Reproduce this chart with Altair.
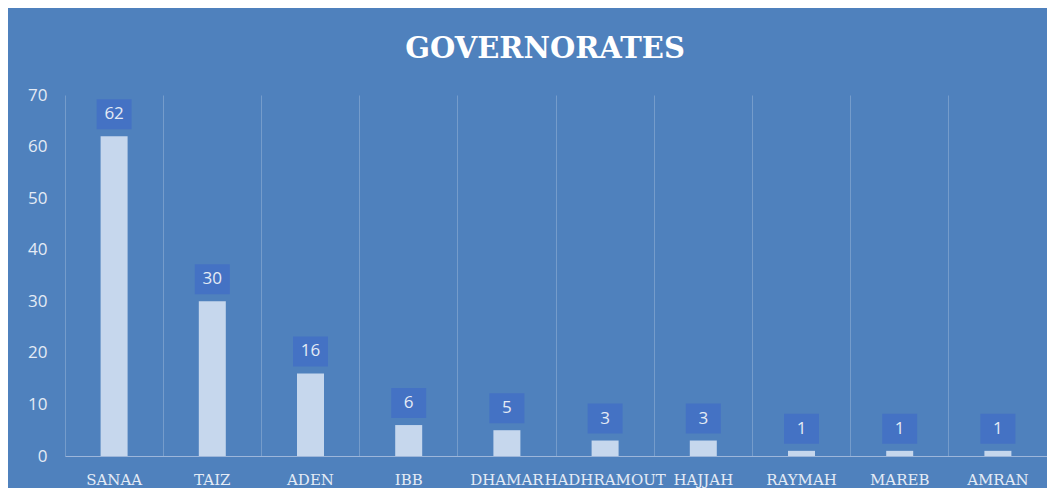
import altair as alt
import pandas as pd

governorates = ["SANAA", "TAIZ", "ADEN", "IBB", "DHAMAR", "HADHRAMOUT",
                "HAJJAH", "RAYMAH", "MAREB", "AMRAN"]
counts = [62, 30, 16, 6, 5, 3, 3, 1, 1, 1]

df = pd.DataFrame({"gov": governorates, "count": counts})

BG = "#4f81bd"
LIGHT = "#e4ebf5"

x = alt.X("gov:N", sort=governorates, title=None,
          scale=alt.Scale(paddingInner=0, paddingOuter=0),
          axis=alt.Axis(labelAngle=0, labelFont="DejaVu Serif", labelFontSize=15,
                        labelColor=LIGHT, labelPadding=16, ticks=False,
                        domainColor="#9db6da", domainWidth=1.2,
                        grid=True, gridColor="#ffffff", gridOpacity=0.22,
                        bandPosition=0, labelOverlap=False))
y = alt.Y("count:Q", title=None,
          scale=alt.Scale(domain=[0, 70]),
          axis=alt.Axis(values=[0, 10, 20, 30, 40, 50, 60, 70], grid=False,
                        domain=False, ticks=False, labelFont="Open Sans",
                        labelFontSize=17, labelColor=LIGHT, labelPadding=18))

bars = alt.Chart(df).mark_bar(width=27, color="#c6d7ed").encode(x=x, y=y)

boxes = alt.Chart(df).mark_bar(width=35, color="#4472c4", yOffset=-7,
                               y2Offset=-37).encode(
    x=alt.X("gov:N", sort=governorates),
    y=alt.Y("count:Q"),
    y2=alt.Y2("count"))

labels = alt.Chart(df).mark_text(dy=-22, fontSize=17, font="Open Sans",
                                 color=LIGHT, baseline="middle").encode(
    x=alt.X("gov:N", sort=governorates),
    y=alt.Y("count:Q"),
    text="count:Q")

chart = alt.layer(bars, boxes, labels).properties(
    width=982, height=361,
    background=BG,
    padding={"left": 57, "top": 87, "right": 0, "bottom": 32},
    autosize=alt.AutoSizeParams(type="none"),
    title=alt.TitleParams("GOVERNORATES", font="DejaVu Serif", fontSize=29,
                          fontWeight="bold", color="#ffffff", offset=22,
                          dx=-11)
).configure_view(stroke=None)

chart.save("out.html", embed_options={"renderer": "svg", "actions": False})
